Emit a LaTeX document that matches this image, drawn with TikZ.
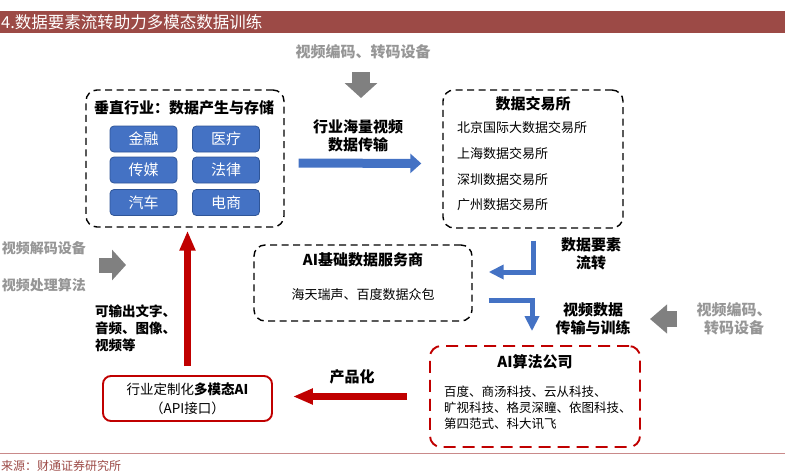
\documentclass[tikz,border=0pt]{standalone}
\usepackage{fontspec}
\setmainfont{Noto Sans CJK SC}
\usetikzlibrary{arrows.meta}
\definecolor{titlebar}{HTML}{9C4A46}
\definecolor{boxblue}{HTML}{4472C4}
\definecolor{boxblueedge}{HTML}{2F5597}
\definecolor{darkred}{HTML}{C00000}
\definecolor{arrowgray}{HTML}{808080}
\definecolor{textgray}{HTML}{969696}
\definecolor{rulered}{HTML}{C98A8A}
\tikzset{
  dashbox/.style={draw=black, line width=1.4pt, dash pattern=on 7pt off 4.5pt, rounded corners=11pt},
  reddashbox/.style={draw=darkred, line width=1.9pt, dash pattern=on 12pt off 7pt, rounded corners=11pt},
  bluebox/.style={draw=boxblueedge, line width=0.8pt, fill=boxblue, rounded corners=4pt,
    minimum width=67pt, minimum height=26pt, inner sep=0pt, text=white,
    font=\fontsize{15}{18}\selectfont},
  apibox/.style={draw=darkred, line width=1.9pt, rounded corners=8pt, minimum width=169pt,
    minimum height=45pt, align=center, inner sep=0pt, font=\fontsize{13.5}{19}\selectfont},
  boxtitle/.style={inner sep=0pt, font=\bfseries\fontsize{15}{18}\selectfont},
  itemtxt/.style={inner sep=0pt, anchor=west, font=\fontsize{13}{16}\selectfont},
  lbl/.style={inner sep=0pt, align=center, font=\bfseries\fontsize{15}{18}\selectfont},
  graytxt/.style={inner sep=0pt, align=center, text=textgray, font=\bfseries\fontsize{15}{18}\selectfont},
  bluefat/.style={draw=boxblue, line width=9pt, -{Triangle[width=19pt,length=11pt]}},
  blueelbow/.style={draw=boxblue, line width=5pt, line join=miter, -{Triangle[width=14pt,length=15pt]}},
  redfat/.style={draw=darkred, line width=7.5pt, -{Triangle[width=15pt,length=20pt]}},
  grayfat/.style={draw=arrowgray, line width=#1},
}
\begin{document}
\begin{tikzpicture}[x=1pt,y=-1pt]
\useasboundingbox (0,0) rectangle (785,474);
% title bar
\fill[titlebar] (0,11) rectangle (785,33);
\node[inner sep=0pt, anchor=west, text=white, font=\fontsize{16.5}{18}\selectfont] (title) at (1,22) {4.数据要素流转助力多模态数据训练};
% bottom rule and source
\draw[rulered, line width=0.8pt] (0,453) -- (785,453);
\node[inner sep=0pt, anchor=west, text=titlebar, font=\fontsize{12}{14}\selectfont] (src) at (1,466) {来源：财通证券研究所};

% vertical industries box
\node[dashbox, minimum width=198pt, minimum height=137pt] (vert) at (185,158.5) {};
\node[boxtitle] (verttitle) at (184,108) {垂直行业：数据产生与存储};
\node[bluebox] (jr) at (143.5,139) {金融};
\node[bluebox] (yl) at (226,139) {医疗};
\node[bluebox] (cm) at (143.5,170) {传媒};
\node[bluebox] (fl) at (226,170) {法律};
\node[bluebox] (qc) at (143.5,202.5) {汽车};
\node[bluebox] (ds) at (226,202.5) {电商};

% exchange box
\node[dashbox, minimum width=180pt, minimum height=138pt] (exch) at (533,159) {};
\node[boxtitle] (exchtitle) at (533,104) {数据交易所};
\node[itemtxt] (ex1) at (457,128) {北京国际大数据交易所};
\node[itemtxt] (ex2) at (457,154) {上海数据交易所};
\node[itemtxt] (ex3) at (457,180) {深圳数据交易所};
\node[itemtxt] (ex4) at (457,205) {广州数据交易所};

% AI base data service box
\node[dashbox, minimum width=218pt, minimum height=76pt] (svc) at (363,283) {};
\node[boxtitle] (svctitle) at (363,260) {AI基础数据服务商};
\node[inner sep=0pt, font=\fontsize{13}{16}\selectfont] (svcitems) at (363,295) {海天瑞声、百度数据众包};

% AI algorithm companies box
\node[reddashbox, minimum width=210pt, minimum height=101pt] (algo) at (535,396.5) {};
\node[boxtitle] (algotitle) at (535,362) {AI算法公司};
\node[inner sep=0pt, anchor=west, align=left, font=\fontsize{12.5}{16}\selectfont] (algoitems) at (444,408)
  {百度、商汤科技、云从科技、\\旷视科技、格灵深瞳、依图科技、\\第四范式、科大讯飞};

% API box
\node[apibox] (api) at (187.5,398.5) {行业定制化\textbf{多模态AI}\\（API接口）};

% labels
\node[graytxt] (enctop) at (363,52) {视频编码、转码设备};
\node[lbl] (l1) at (358,136) {行业海量视频\\数据传输};
\node[graytxt, anchor=east, font=\bfseries\fontsize{14}{17}\selectfont] (dec) at (86,248) {视频解码设备};
\node[graytxt, anchor=east, font=\bfseries\fontsize{14}{17}\selectfont] (proc) at (86,285) {视频处理算法};
\node[lbl, anchor=west, align=left, font=\bfseries\fontsize{13.5}{17}\selectfont] (outp) at (95,328) {可输出文字、\\音频、图像、\\视频等};
\node[lbl] (flow) at (591,254) {数据要素\\流转};
\node[lbl] (train) at (593,319) {视频数据\\传输与训练};
\node[graytxt] (encright) at (734,319) {视频编码、\\转码设备};
\node[lbl] (prod) at (352,377) {产品化};

% gray block arrows
\coordinate (g1s) at (361,72);
\coordinate (g1e) at (361,98);
\draw[grayfat=18pt, -{Triangle[width=32pt,length=15pt]}] (g1s) -- (g1e);
\coordinate (g2s) at (99,265);
\coordinate (g2e) at (126,265);
\draw[grayfat=15pt, -{Triangle[width=30pt,length=14pt]}] (g2s) -- (g2e);
\coordinate (g3s) at (677,319);
\coordinate (g3e) at (650,319);
\draw[grayfat=16pt, -{Triangle[width=28pt,length=17pt]}] (g3s) -- (g3e);

% blue connectors
\draw[bluefat, shorten <=14pt, shorten >=21pt] ([yshift=-4.5pt]vert.east) -- ([yshift=-4.5pt]exch.west);
\draw[blueelbow, shorten <=12pt, shorten >=16pt] (exch.south) |- ([yshift=11pt]svc.east);
\draw[blueelbow, shorten <=16pt, shorten >=14pt] ([yshift=-17pt]svc.east) -| ([xshift=-3pt]algo.north);

% red connectors
\draw[redfat, shorten <=9pt, shorten >=3pt] (api.north) -- (api.north |- vert.south);
\draw[redfat, shorten <=22pt, shorten >=20pt] (algo.west) -- (algo.west -| api.east);
\end{tikzpicture}
\end{document}
